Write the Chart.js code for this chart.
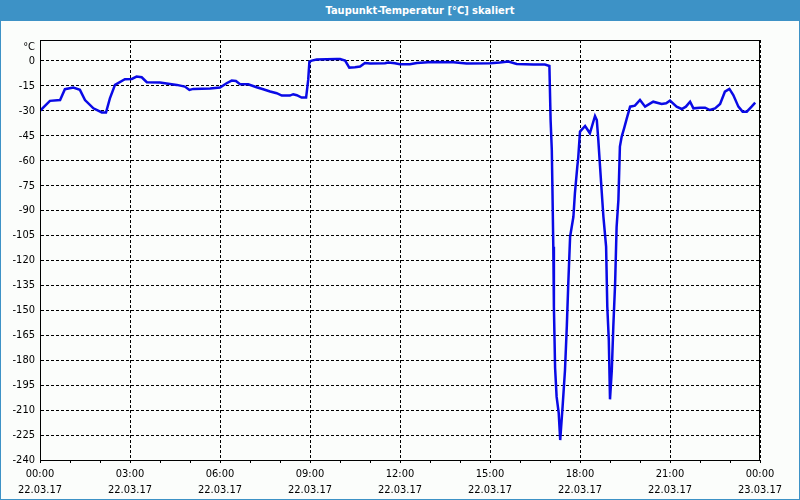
<!DOCTYPE html>
<html>
<head>
<meta charset="utf-8">
<script src="https://cdn.jsdelivr.net/npm/chart.js@4/dist/chart.umd.min.js"></script>
<style>
  html, body { margin: 0; padding: 0; background: #fbfdfb; }
  #bg { position: absolute; left: 0; top: 0; width: 800px; height: 500px; background: #fbfdfb; }
  #titlebar { position: absolute; left: 0; top: 0; width: 800px; height: 21px; background: #3d92c6;
    color: #ffffff; font: bold 11px "DejaVu Sans Condensed", "DejaVu Sans", sans-serif; line-height: 21px; }
  #titlebar span { position: absolute; left: 420px; top: 0; transform: translateX(-50%); white-space: nowrap; }
  #chart { position: absolute; left: 0; top: 0; }
  #frame { position: absolute; left: 0; top: 0; width: 800px; height: 500px; box-sizing: border-box;
    border: 1px solid #3d92c6; pointer-events: none; }
</style>
</head>
<body>
<div id="bg"></div>
<div id="titlebar"><span>Taupunkt-Temperatur [°C] skaliert</span></div>
<canvas id="chart" width="800" height="500"></canvas>
<div id="frame"></div>
<script>
// ---- data ----
const unitLabel = '°C';
const hours = [0, 0.33, 0.67, 0.83, 1.11, 1.33, 1.5, 1.78, 2.06, 2.2, 2.33, 2.5, 2.83, 3.06, 3.22, 3.39, 3.56, 4.0, 4.22, 4.56,
  4.83, 4.98, 5.11, 5.67, 6.0, 6.22, 6.39, 6.53, 6.67, 6.94, 7.22, 7.44, 7.67, 7.89, 8.06, 8.33, 8.44, 8.56, 8.72, 8.87,
  8.94, 8.98, 9.06, 9.22, 9.89, 10.0, 10.17, 10.31, 10.5, 10.67, 10.83, 11.0, 11.5, 11.61, 11.83, 12.0, 12.33, 12.56, 13.06, 13.78,
  14.22, 15.0, 15.33, 15.61, 15.89, 16.44, 16.83, 16.98, 17.02, 17.06, 17.08, 17.11, 17.13, 17.17, 17.22, 17.29, 17.34, 17.42, 17.5, 17.56,
  17.61, 17.67, 17.78, 17.83, 17.91, 17.94, 18.0, 18.17, 18.33, 18.5, 18.56, 18.61, 18.67, 18.72, 18.78, 18.87, 18.91, 18.96, 19.0, 19.06,
  19.11, 19.17, 19.22, 19.28, 19.33, 19.39, 19.47, 19.56, 19.67, 19.83, 20.0, 20.17, 20.44, 20.72, 20.87, 21.0, 21.22, 21.39, 21.53, 21.67,
  21.78, 22.0, 22.17, 22.33, 22.5, 22.67, 22.83, 22.98, 23.11, 23.28, 23.42, 23.56, 23.72, 23.84];
const dewPoint = [-30, -24, -23.5, -17, -16, -17.4, -23.5, -28.5, -31, -31, -22.5, -14.4, -11, -10.8, -9.4, -9.8, -12.8, -13, -13.6, -14.4,
  -15.4, -17.4, -16.8, -16.6, -16, -13.4, -11.8, -12, -14, -14, -15.8, -17, -18.4, -19.4, -20.8, -20.8, -20, -20.6, -22, -22,
  -11.4, -0.4, 0.2, 0.8, 1.2, 1.2, 0.2, -4, -3.8, -3.4, -1.2, -1.6, -1.4, -1.0, -1.4, -2, -2, -1.2, -0.6, -0.8,
  -1.6, -1.4, -1, -0.4, -1.8, -2.2, -2.2, -3, -35.5, -53.5, -75.6, -111.7, -147.8, -184.7, -201.9, -211.7, -228, -207.9, -185.9, -159.8,
  -133.7, -105.7, -93.7, -79.6, -63.6, -58.5, -42.5, -39.1, -43.5, -33.1, -35.5, -47.5, -64, -77.6, -93.7, -111.7, -147.8, -167.8, -203.5, -186,
  -160, -134, -100, -83.6, -51.5, -45.5, -40.5, -34.5, -27.5, -26.9, -23.5, -27.5, -24.5, -25.9, -25.5, -23.9, -27.5, -28.9, -27.5, -24.5,
  -28.5, -28.1, -28.1, -29.5, -28.5, -25.9, -18.5, -16.8, -20.5, -27.5, -30.5, -30.5, -27.5, -25.1];
const yTicks = [0, -15, -30, -45, -60, -75, -90, -105, -120, -135, -150, -165, -180, -195, -210, -225, -240];
const timeLabels = ['00:00', '03:00', '06:00', '09:00', '12:00', '15:00', '18:00', '21:00', '00:00'];
const dateLabels = ['22.03.17', '22.03.17', '22.03.17', '22.03.17', '22.03.17', '22.03.17', '22.03.17', '22.03.17', '23.03.17'];
const yMin = -240, yMax = 12.6;

const FONT = '"DejaVu Sans Condensed", "DejaVu Sans", sans-serif';

const framePlugin = {
  id: 'framePlugin',
  afterDraw(chart) {
    const { ctx, chartArea: a } = chart;
    ctx.save();
    ctx.strokeStyle = '#000';
    ctx.lineWidth = 1;
    ctx.strokeRect(Math.round(a.left) + 0.5, Math.round(a.top) + 0.5, Math.round(a.right - a.left) - 1, Math.round(a.bottom - a.top));
    ctx.fillStyle = '#000';
    ctx.font = '11px ' + FONT;
    ctx.textAlign = 'right';
    ctx.textBaseline = 'middle';
    ctx.fillText(unitLabel, a.left - 5, a.top + 7);
    ctx.restore();
  }
};

new Chart(document.getElementById('chart'), {
  type: 'line',
  data: {
    datasets: [{
      data: hours.map((h, i) => ({ x: h, y: dewPoint[i] })),
      borderColor: '#0a0ae6',
      borderWidth: 2.5,
      pointRadius: 0,
      tension: 0,
      fill: false
    }]
  },
  options: {
    responsive: false,
    animation: false,
    devicePixelRatio: 1,
    layout: { padding: { left: 0, top: 40, right: 40, bottom: 0 } },
    plugins: { legend: { display: false }, tooltip: { enabled: false } },
    scales: {
      x: {
        type: 'linear', min: 0, max: 24,
        afterFit(s) { s.height = 40; },
        ticks: {
          stepSize: 1, autoSkip: false, maxRotation: 0, minRotation: 0, padding: 3,
          color: '#000', font: { family: FONT, size: 11, lineHeight: 1.45 },
          callback(v) { return v % 3 === 0 ? [timeLabels[v / 3], dateLabels[v / 3]] : ''; }
        },
        grid: {
          color: ctx => (ctx.tick && ctx.tick.value % 3 === 0) ? '#000' : 'rgba(0,0,0,0)',
          tickColor: '#000', tickLength: 3, drawTicks: true, lineWidth: 1
        },
        border: { display: true, color: '#000', dash: [3, 2] }
      },
      y: {
        type: 'linear', min: yMin, max: yMax,
        afterFit(s) { s.width = 40; },
        afterBuildTicks(s) { s.ticks = yTicks.map(v => ({ value: v })); },
        ticks: { color: '#000', padding: 5, font: { family: FONT, size: 11 } },
        grid: { color: '#000', drawTicks: false, lineWidth: 1 },
        border: { display: true, color: '#000', dash: [3, 2] }
      }
    }
  },
  plugins: [framePlugin]
});
</script>
</body>
</html>
